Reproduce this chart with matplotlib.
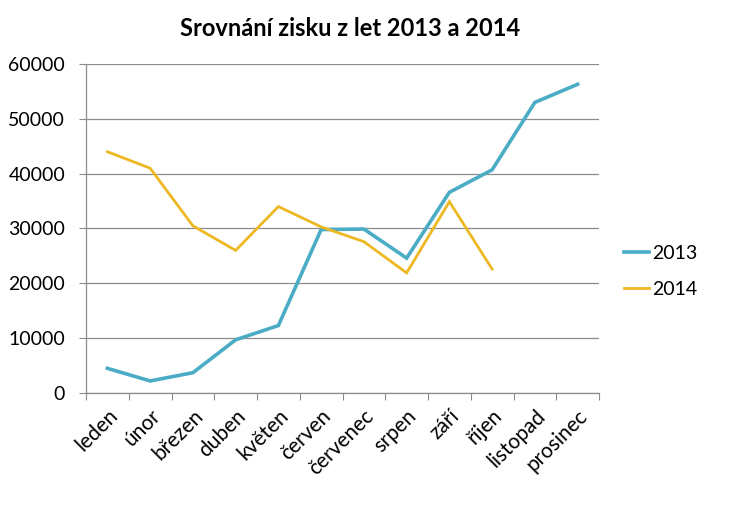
import matplotlib
matplotlib.use("Agg")
import matplotlib.pyplot as plt
import numpy as np

months = ["leden", "únor", "březen", "duben", "květen", "červen", "červenec",
          "srpen", "září", "říjen", "listopad", "prosinec"]
v2013 = [4500, 2200, 3700, 9700, 12300, 29800, 29900, 24600, 36600, 40700, 53000, 56300]
v2014 = [44000, 41000, 30500, 26000, 34000, 30300, 27600, 21900, 34900, 22600]
yticks = [0, 10000, 20000, 30000, 40000, 50000, 60000]

plt.rcParams['font.family'] = ['Lato', 'DejaVu Sans']

fig = plt.figure(figsize=(7.39, 5.2), dpi=100)
ax = fig.add_axes([86/739, 1-393/520, (599-86)/739, (393-64)/520])

x = np.arange(len(months))
ax.plot(x, v2013, color="#4BACC6", lw=2.6, label="2013", solid_joinstyle='miter')
ax.plot(np.arange(len(v2014)), v2014, color="#EDB822", lw=2.0, label="2014", solid_joinstyle='miter')

ax.set_xlim(-0.5, len(months) - 0.5)
ax.set_ylim(0, 60000)
ax.set_yticks(yticks)
ax.set_yticklabels([str(t) for t in yticks], fontsize=14)
ax.yaxis.grid(True, color="#8c8c8c", lw=0.9)
ax.set_axisbelow(True)

ax.set_xticks(np.arange(-0.5, len(months), 1.0), minor=False)
ax.set_xticklabels([])
ax.set_xticks(x, minor=True)
ax.set_xticklabels(months, minor=True, rotation=45, ha='right', rotation_mode='anchor', fontsize=15)
ax.tick_params(axis='x', which='major', length=5, color="#8c8c8c", direction='out')
ax.tick_params(axis='x', which='minor', length=0, pad=9)
ax.tick_params(axis='y', length=5, color="#8c8c8c", pad=10)

for s in ['top', 'right']:
    ax.spines[s].set_visible(False)
for s in ['left', 'bottom']:
    ax.spines[s].set_color("#8c8c8c")
    ax.spines[s].set_linewidth(0.9)

fig.text(350/739, 1-28/520, "Srovnání zisku z let 2013 a 2014", ha='center', va='center',
         fontsize=17, fontweight='bold')

leg = ax.legend(loc='center left', bbox_to_anchor=(1.015, 0.37), frameon=False, fontsize=14,
                handlelength=1.3, handletextpad=0.15, labelspacing=0.95)

fig.savefig("out.png", dpi=100)
